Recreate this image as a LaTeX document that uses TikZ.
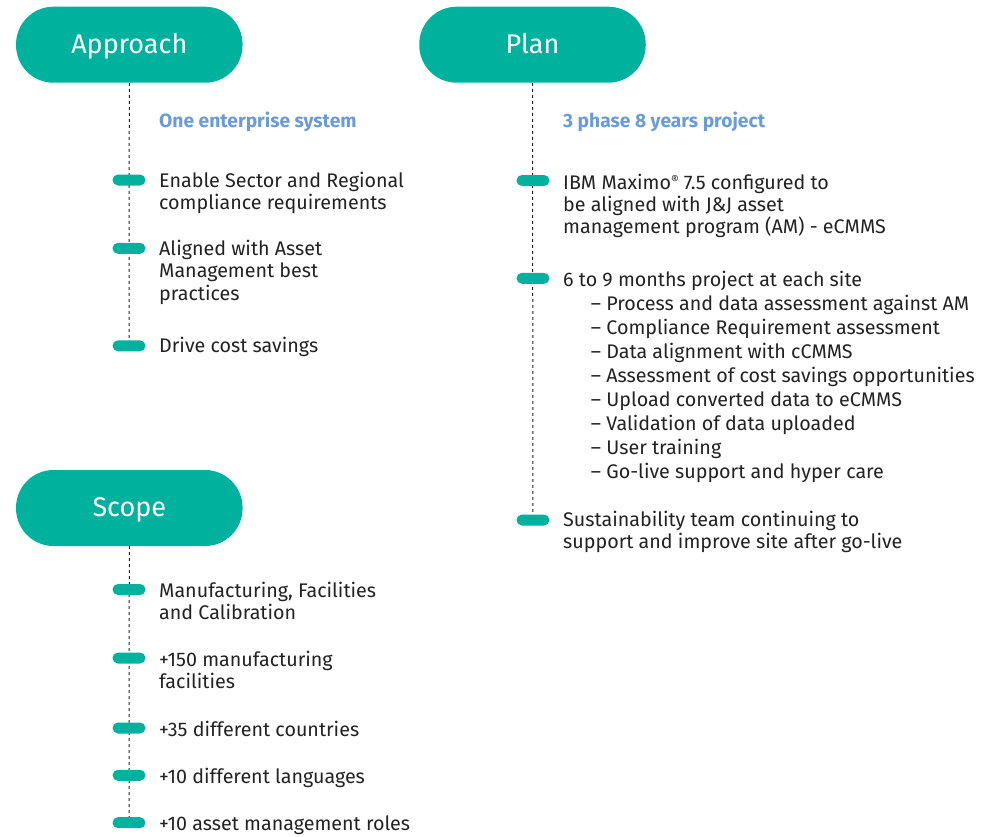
\documentclass[tikz,border=0pt]{standalone}
\usepackage{fontspec}
\setmainfont{Fira Sans}
\usetikzlibrary{positioning,backgrounds}
\definecolor{jjteal}{RGB}{0,178,158}
\definecolor{jjblue}{RGB}{106,155,217}
\definecolor{jjtext}{RGB}{34,34,34}
% lines of text, base at the first line
\newcommand{\lines}[1]{\vtop{\let\\\cr\halign{##\hfil\cr#1\crcr}}}
\newcommand{\regmark}{{\fontsize{12}{12}\selectfont\raisebox{4.5pt}{®}}}

\tikzset{
	pill/.style={fill=jjteal,text=white,rounded corners=37.5pt,minimum width=226.5pt,minimum height=76pt,inner sep=0pt,text height=22pt,text depth=4.8pt,font=\fontsize{27}{30}\selectfont},
	tick/.style={fill=jjteal,rounded corners=5.5pt,minimum width=33pt,minimum height=11pt,inner sep=0pt},
	vline/.style={draw=jjtext,line width=1pt,dash pattern=on 3pt off 3pt},
	item/.style={anchor=base west,inner sep=0pt,text=jjtext,font=\fontsize{19.7}{22.7}\selectfont},
	head/.style={item,text=jjblue,font=\fontsize{19.2}{22}\selectfont\bfseries}
}

\begin{document}
\begin{tikzpicture}[x=1pt,y=-1pt]
	\useasboundingbox (0,0) rectangle (988,836);
	% approach
	\node at (129.3,44.7)[pill] (ap) {Approach};
	\node at (159,127.5)[head] (aph) {One enterprise system};
	\node at (129,180)[tick] (a1) {};
	\node at (129,248.3)[tick] (a2) {};
	\node at (129,345.8)[tick] (a3) {};
	\node at (159,187)[item] (a1t) {\lines{Enable Sector and Regional\\compliance requirements}};
	\node at (159,255)[item] (a2t) {\lines{Aligned with Asset\\Management best\\practices}};
	\node at (159,352)[item] (a3t) {Drive cost savings};
	% plan
	\node at (532.5,44.7)[pill] (pl) {Plan};
	\node at (563,127.3)[head] (plh) {3 phase 8 years project};
	\node at (533,180.5)[tick] (p1) {};
	\node at (533,278.3)[tick] (p2) {};
	\node at (533,520)[tick] (p3) {};
	\node at (563,189)[item,font=\fontsize{19.7}{22}\selectfont] (p1t) {\lines{IBM Maximo\regmark{} 7.5 configured to\\be aligned with J\&J asset\\management program (AM) - eCMMS}};
	\node at (563,286)[item] (p2t) {6 to 9 months project at each site};
	\node at (590.7,310)[item,font=\fontsize{19.7}{24}\selectfont] (p2s) {\lines{– Process and data assessment against AM\\– Compliance Requirement assessment\\– Data alignment with cCMMS\\– Assessment of cost savings opportunities\\– Upload converted data to eCMMS\\– Validation of data uploaded\\– User training\\– Go-live support and hyper care}};
	\node at (563,526)[item,font=\fontsize{19.7}{22.5}\selectfont] (p3t) {\lines{Sustainability team continuing to\\support and improve site after go-live}};
	% scope
	\node at (129.3,508)[pill] (sc) {Scope};
	\node at (129,589.5)[tick] (s1) {};
	\node at (129,658)[tick] (s2) {};
	\node at (129,728)[tick] (s3) {};
	\node at (129,775.3)[tick] (s4) {};
	\node at (129,822.7)[tick] (s5) {};
	\node at (159,597)[item] (s1t) {\lines{Manufacturing, Facilities\\and Calibration}};
	\node at (159,666)[item] (s2t) {\lines{+150 manufacturing\\facilities}};
	\node at (159,736)[item] (s3t) {+35 different countries};
	\node at (159,783)[item] (s4t) {+10 different languages};
	\node at (159,830.7)[item] (s5t) {+10 asset management roles};
	\begin{scope}[on background layer]
		\draw[vline] (ap.south)--(a3.center);
		\draw[vline] (pl.south)--(p3.center);
		\draw[vline] (sc.south)--(s5.center);
	\end{scope}
\end{tikzpicture}
\end{document}
